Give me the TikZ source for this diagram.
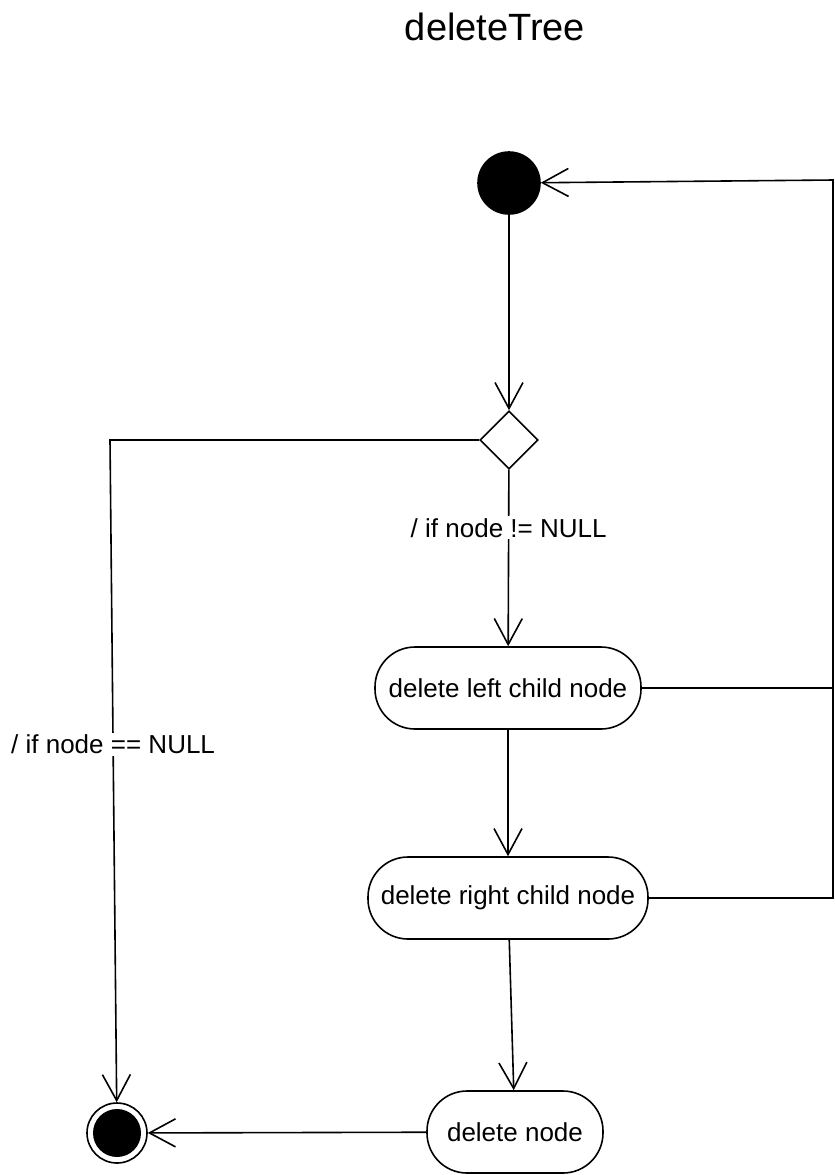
\documentclass[tikz,border=0pt]{standalone}
\usepackage{fontspec}
\setmainfont{Liberation Sans}
\usepackage{tikz}
\usetikzlibrary{arrows.meta}
\usetikzlibrary{shapes.geometric}

\begin{document}
\begin{tikzpicture}[x=0.5pt, y=-0.5pt, line width=0.8pt,
    arr/.style={-{Straight Barb[length=13pt, width=14pt, line width=0.8pt]}},
    act/.style={draw, rounded corners=20pt, minimum height=41pt, inner sep=2pt, font=\fontsize{13}{15}\selectfont},
    lbl/.style={fill=white, inner sep=1pt, font=\fontsize{13}{15}\selectfont}]
  \useasboundingbox (0,0) rectangle (835,1175);

  % Titulo
  \node[font=\fontsize{19}{22}\selectfont] (title) at (495,27) {deleteTree};

  % Nodos
  \node[draw, circle, fill=black, minimum size=31pt, inner sep=0pt] (start) at (509,183) {};
  \node[draw, diamond, minimum size=29pt, inner sep=0pt] (decide) at (509,440) {};
  \node[act, minimum width=133pt] (leftChild) at (508,688) {delete left child node};
  \node[act, minimum width=140pt] (rightChild) at (508,898) {delete right child node};
  \node[act, minimum width=88pt] (delNode) at (515,1132) {delete node};
  \node[draw, circle, minimum size=30pt, inner sep=0pt,
        path picture={\fill (path picture bounding box.center) circle (12pt);}] (final) at (117,1133) {};

  % Esquinas
  \coordinate (lcorner) at (110,440);
  \coordinate (rtop) at (833,180);
  \coordinate (rmid) at (833,688);
  \coordinate (rbot) at (833,898);

  % Transiciones
  \draw[arr] (start) -- (decide);
  \draw[arr] (decide) -- (leftChild) node[lbl, pos=0.33] {/ if node != NULL};
  \draw[arr] (leftChild) -- (rightChild);
  \draw[arr] (rightChild) -- (delNode);
  \draw[arr] (delNode) -- (final);
  \draw[arr] (decide.west) -- (lcorner) -- (final) node[lbl, pos=0.46] {/ if node == NULL};

  % Recursion de regreso
  \draw (leftChild) -- (rmid);
  \draw[arr] (rightChild) -- (rbot) -- (rtop) -- (start);
\end{tikzpicture}
\end{document}
